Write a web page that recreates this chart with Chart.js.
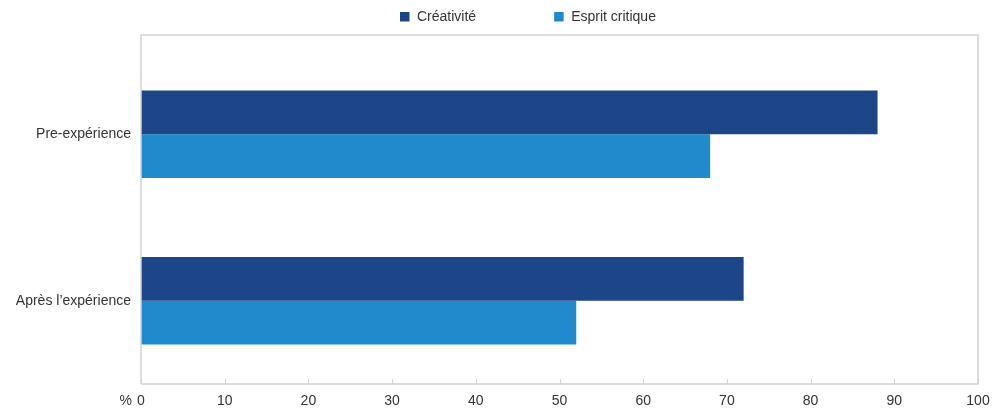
<!DOCTYPE html>
<html>
<head>
<meta charset="utf-8">
<script src="https://cdn.jsdelivr.net/npm/chart.js@4"></script>
<style>
  html, body { margin: 0; padding: 0; background: #fff; overflow: hidden; }
  #wrap { width: 999px; height: 408px; position: relative; }
</style>
</head>
<body>
<div id="wrap"><canvas id="c"></canvas></div>
<script>
const categories = ['Pre-expérience', 'Après l\u2019expérience'];
const seriesNames = ['Créativité', 'Esprit critique'];
const creativite = [88, 72];
const espritCritique = [68, 52];
const xTicks = [0, 10, 20, 30, 40, 50, 60, 70, 80, 90, 100];
const unitLabel = '%';

const FONT = '"Liberation Sans", Arial, Helvetica, sans-serif';
const TEXT = '#333333';
const FRAME = '#d2d2d2';

const framePlugin = {
  id: 'frame',
  afterDraw(chart) {
    const { ctx, chartArea: a, scales } = chart;
    const top = a.top - 16;
    ctx.save();
    ctx.strokeStyle = FRAME;
    ctx.lineWidth = 1.5;
    ctx.beginPath();
    ctx.moveTo(a.left, a.bottom);
    ctx.lineTo(a.left, top);
    ctx.lineTo(a.right, top);
    ctx.lineTo(a.right, a.bottom);
    ctx.lineTo(a.left, a.bottom);
    ctx.stroke();
    ctx.lineWidth = 1;
    scales.x.ticks.forEach(t => {
      const px = Math.round(scales.x.getPixelForValue(t.value)) + 0.5;
      ctx.beginPath();
      ctx.moveTo(px, a.bottom);
      ctx.lineTo(px, a.bottom - 5);
      ctx.stroke();
    });
    ctx.fillStyle = TEXT;
    ctx.font = '14px ' + FONT;
    ctx.textAlign = 'right';
    ctx.textBaseline = 'middle';
    ctx.fillText(unitLabel, a.left - 9, a.bottom + 17);
    ctx.textAlign = 'left';
    let x = 400;
    chart.data.datasets.forEach(ds => {
      ctx.fillStyle = ds.backgroundColor;
      ctx.fillRect(x, 12, 9.5, 9.5);
      ctx.fillStyle = TEXT;
      ctx.fillText(ds.label, x + 17, 17);
      x += 17 + ctx.measureText(ds.label).width + 78;
    });
    ctx.restore();
  }
};

new Chart(document.getElementById('c'), {
  type: 'bar',
  data: {
    labels: categories,
    datasets: [
      { label: seriesNames[0], data: creativite, backgroundColor: '#1d4689' },
      { label: seriesNames[1], data: espritCritique, backgroundColor: '#1f8bcd' }
    ]
  },
  options: {
    indexAxis: 'y',
    responsive: true,
    maintainAspectRatio: false,
    animation: false,
    layout: { padding: { top: 51, right: 21, bottom: 0, left: 0 } },
    datasets: { bar: { categoryPercentage: 0.527, barPercentage: 1.0 } },
    plugins: { legend: { display: false }, tooltip: { enabled: false } },
    scales: {
      x: {
        min: 0, max: 100,
        afterBuildTicks(s) { s.ticks = xTicks.map(v => ({ value: v })); },
        afterFit(s) { s.height = 24; },
        grid: { display: false, drawTicks: false },
        border: { display: false },
        ticks: { color: TEXT, font: { family: FONT, size: 14 }, padding: 9, maxRotation: 0 }
      },
      y: {
        afterFit(s) { s.width = 141; },
        grid: { display: false, drawTicks: false },
        border: { display: false },
        ticks: { color: TEXT, font: { family: FONT, size: 14 }, padding: 10 }
      }
    }
  },
  plugins: [framePlugin]
});
</script>
</body>
</html>
